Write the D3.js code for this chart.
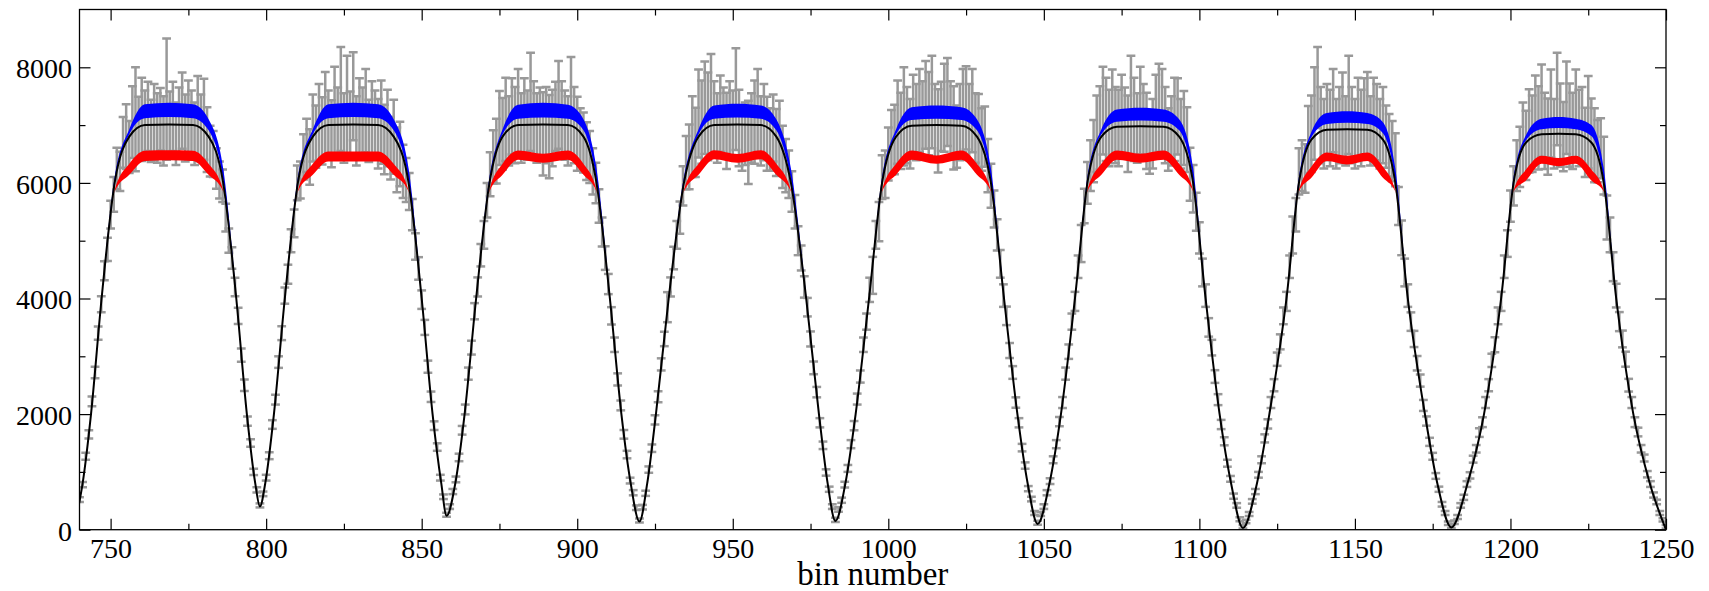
<!DOCTYPE html>
<html><head><meta charset="utf-8">
<script src="https://cdn.jsdelivr.net/npm/d3@7"></script>
<style>html,body{margin:0;padding:0;background:#fff}svg{display:block}</style>
</head><body>
<svg id="chart" width="1709" height="591"></svg>
<script>
// ---------------- data ----------------
const binStart = 740;
// observed counts per bin (740 ... 1250)
const obs = [
520,780,1270,1650,2220,2720,3400,3900,4480,4850,
5450,5800,6250,6200,6700,6800,6620,7050,7100,6950,
7100,7000,7150,6900,7050,6950,7100,6900,7450,7000,
7150,6850,7050,7250,6950,7150,7000,6850,7150,6950,
7100,6750,6550,6500,6250,6050,5950,5400,5000,4700,
4200,3700,3020,2500,1880,1500,1000,690,420,620,
900,1280,1820,2250,2900,3400,4050,4420,5000,5300,
6000,6050,6450,6650,6450,6950,6800,7050,6900,7200,
7000,6850,7250,7050,7450,6950,7300,7000,7500,6900,
7150,7050,7250,6900,7100,7000,6850,7050,6750,6950,
6600,6800,6400,6500,6200,6050,5850,5450,4900,4520,
3980,3500,2820,2300,1800,1430,900,570,260,400,
660,870,1250,1720,2080,2700,3150,3780,4200,4750,
5100,5700,6150,6450,6550,6950,6850,7100,6900,7150,
7000,7250,6950,7150,7000,7400,7100,6950,7050,6850,
7000,6800,6950,7150,7350,7100,7000,6900,7300,7000,
6850,6750,6700,6550,6450,6200,6000,5600,5150,4700,
4250,3700,3200,2600,2150,1650,1300,850,640,380,
160,390,630,1040,1410,1900,2300,2860,3300,3850,
4200,4700,5100,5400,5950,6350,6450,6800,6700,7200,
7050,7300,7150,7350,7100,6950,7200,7050,6900,7100,
7000,7450,6950,6750,6850,6700,6950,7050,7250,6900,
7050,6850,6750,6950,6700,6800,6450,6300,6150,5850,
5500,5000,4700,4200,3850,3300,2800,2380,1850,1460,
990,700,400,170,350,510,780,1060,1480,1800,
2260,2650,3200,3600,4150,4400,5100,5330,6100,6150,
6500,6700,6750,7050,6900,7150,7000,6850,7150,7050,
7250,7100,7350,7200,7400,7050,6900,7150,7300,7400,
7100,6950,6800,7050,7250,7300,7050,7250,6950,6900,
6750,6800,6300,5950,5550,5100,4600,4050,3700,3100,
2720,2200,1850,1420,1110,710,530,290,120,270,
400,640,840,1210,1480,1870,2200,2700,3080,3600,
3950,4550,4950,5600,6000,6300,6550,6850,6950,7250,
7100,6950,7200,7000,6950,7150,7050,6850,7350,7100,
6950,7250,7050,6900,6700,6850,7150,7300,7250,7000,
6750,6900,7100,7150,6850,6950,6750,6150,5900,5500,
5050,4450,4050,3500,3150,2650,2250,1820,1530,1150,
880,580,420,180,50,140,270,490,660,950,
1210,1580,1830,2200,2500,2950,3250,3700,3950,4550,
5100,5450,6200,6300,6250,6750,6850,7200,7650,7000,
6850,7050,6950,7250,6850,7000,7150,6900,7350,7000,
6850,7100,6950,7150,7200,6900,7100,7050,6850,7000,
6800,6650,6550,6400,5600,5050,4450,4050,3600,3300,
2880,2580,2150,1880,1520,1270,930,700,440,290,
110,60,130,220,420,560,790,940,1220,1400,
1680,1860,2200,2500,2930,3200,3700,3950,4550,4950,
5600,5950,6300,6450,6750,6650,6900,6850,7100,6950,
7250,6900,6800,7200,6850,7450,7000,6800,7300,7000,
6900,7200,6950,7000,6700,7050,6800,6650,6550,6600,
6300,5400,5100,4550,4050,3600,3300,2950,2500,2200,
1860,1690,1400,1240,960,790,600,480,290,170,
50
];
// symmetric error per bin
const err = [
40,45,60,70,85,100,115,140,165,200,
240,300,360,340,440,560,450,620,900,540,
720,600,600,540,660,600,540,600,1050,580,
600,540,600,660,580,620,600,540,700,580,
700,560,440,400,350,320,280,240,210,185,
160,140,115,100,80,65,55,45,35,40,
50,60,75,85,100,120,140,165,200,240,
300,320,390,460,480,580,540,660,580,720,
600,580,760,600,900,600,900,580,760,600,
660,600,720,540,660,600,600,720,600,660,
540,640,560,560,460,380,320,270,230,195,
160,130,105,90,75,65,50,40,35,40,
45,50,65,75,85,105,120,140,165,195,
240,300,380,460,560,640,620,720,600,660,
660,720,600,660,600,850,660,600,600,720,
660,720,660,600,760,660,600,600,880,660,
640,540,520,500,450,400,350,290,250,205,
175,150,125,105,85,75,65,50,45,40,
35,40,45,55,65,80,95,105,125,260,
165,195,240,280,340,460,560,700,600,760,
720,800,760,880,660,600,660,600,660,660,
600,880,660,540,540,720,600,720,720,600,
660,640,540,580,580,620,540,460,410,350,
290,250,215,185,160,130,110,90,80,65,
55,45,40,35,40,45,50,60,70,80,
95,105,125,140,210,320,240,340,380,410,
460,560,600,720,660,850,660,600,720,660,
720,660,760,720,800,660,720,600,760,760,
660,720,540,660,720,720,660,720,600,640,
540,520,460,380,320,270,240,195,160,130,
110,90,80,65,55,45,40,35,35,35,
40,45,50,60,70,80,95,105,125,140,
165,195,320,300,360,440,540,660,720,760,
720,660,760,660,660,720,600,660,850,720,
600,760,660,660,540,600,720,760,720,660,
540,600,720,660,600,640,560,460,410,330,
270,240,195,160,135,110,95,80,70,60,
50,45,40,35,30,30,35,40,45,50,
60,70,80,95,105,115,130,145,165,195,
320,290,400,440,420,580,660,800,700,660,
600,660,660,720,600,660,760,600,850,660,
600,720,660,660,720,600,720,660,600,660,
540,540,520,460,330,300,240,195,160,140,
125,105,95,80,70,60,50,45,40,35,
30,30,30,35,40,45,50,55,60,65,
75,85,95,105,115,130,145,165,195,230,
270,340,440,520,640,600,720,660,760,720,
800,660,660,760,600,800,720,600,800,720,
660,760,660,660,600,800,660,640,540,520,
500,380,300,250,205,165,145,130,110,95,
85,75,65,60,55,50,45,40,35,30,
30
];
// knots of the model curves (bin positions)
const curveBins = [
739.5,741,743.7,747.1,751.3,756,761,768.8,776.5,781.5,786.2,790.4,793.8,796.5,
798,799.7,802.5,806,810.2,815,820,828,836,841,845.8,850,853.5,856.3,
858,860.8,863.8,867.5,871.8,876,881,889,897,902,906.2,910.5,914.2,917.2,
920,922.5,925.3,929.4,934.3,939,944,951.5,959,964,968.7,973.6,977.7,980.5,
983,986.2,989.5,993.8,998,1002.5,1007.5,1015.5,1023.5,1028.5,1033,1037.2,1041.5,1044.8,
1048,1051.8,1055.5,1060,1064,1068.5,1073.5,1081,1088.5,1093.5,1098,1102,1106.5,1110.2,
1114,1118.5,1122.5,1128,1132,1136,1141,1147.5,1154,1159,1163,1167,1172.5,1176.5,
1181,1186.2,1191.5,1197,1201,1205,1210,1215.5,1221,1226,1230,1234,1239.5,1244.8,
1250
];
// black model line
const model = [
350,800,2000,4000,6000,6800,7000,7010,7000,6800,6000,4000,2000,800,
400,800,2000,4000,6000,6800,7000,7010,7000,6800,6000,4000,2000,800,
240,800,2000,4000,6000,6800,7000,7010,7000,6800,6000,4000,2000,800,
140,800,2000,4000,6000,6800,7000,7010,7000,6800,6000,4000,2000,800,
150,800,2000,4000,6000,6800,6990,7000,6990,6800,6000,4000,2000,800,
100,800,2000,4000,6000,6800,6970,6980,6970,6800,6000,4000,2000,800,
30,800,2000,4000,6000,6750,6920,6930,6920,6750,6000,4000,2000,800,
40,800,2000,4000,6000,6700,6840,6850,6840,6700,6000,4000,2000,800,
0
];
// blue band (upper / lower edge)
const blueHi = [
350,800,2000,4020,6100,6930,7360,7388,7360,7100,6250,4060,2000,800,
400,800,2000,4020,6100,6930,7360,7388,7360,7100,6250,4060,2000,800,
240,800,2000,4020,6100,6930,7350,7388,7350,7100,6250,4060,2000,800,
140,800,2000,4020,6100,6930,7340,7370,7340,7100,6250,4060,2000,800,
150,800,2000,4020,6100,6930,7310,7340,7310,7100,6250,4060,2000,800,
100,800,2000,4020,6100,6930,7270,7300,7270,7100,6250,4060,2000,800,
30,800,2000,4020,6100,6880,7210,7240,7210,7050,6250,4060,2000,800,
40,800,2000,4020,6100,6830,7110,7140,7110,7000,6250,4060,2000,800,
0
];
const blueLo = [
350,800,2000,4000,6020,6840,7120,7140,7120,6910,6060,4010,2000,800,
400,800,2000,4000,6020,6840,7120,7140,7120,6910,6060,4010,2000,800,
240,800,2000,4000,6020,6840,7110,7130,7110,6910,6060,4010,2000,800,
140,800,2000,4000,6020,6840,7110,7130,7110,6910,6060,4010,2000,800,
150,800,2000,4000,6020,6840,7090,7110,7090,6910,6060,4010,2000,800,
100,800,2000,4000,6020,6840,7060,7080,7060,6910,6060,4010,2000,800,
30,800,2000,4000,6020,6790,7020,7040,7020,6860,6060,4010,2000,800,
40,800,2000,4000,6020,6740,6930,6950,6930,6810,6060,4010,2000,800,
0
];
// red band (upper / lower edge)
const redHi = [
350,800,2000,3990,5870,6330,6555,6563,6555,6330,5870,3990,2000,800,
400,800,2000,3990,5870,6330,6545,6545,6545,6330,5870,3990,2000,800,
240,800,2000,3990,5870,6330,6560,6505,6560,6330,5870,3990,2000,800,
140,800,2000,3990,5870,6330,6565,6500,6565,6330,5870,3990,2000,800,
150,800,2000,3990,5870,6330,6560,6476,6560,6330,5870,3990,2000,800,
100,800,2000,3990,5870,6330,6560,6505,6560,6330,5870,3990,2000,800,
30,800,2000,3990,5870,6280,6528,6470,6528,6280,5870,3990,2000,800,
40,800,2000,3990,5870,6230,6470,6430,6470,6230,5870,3990,2000,800,
0
];
const redLo = [
350,800,2000,3985,5850,6140,6380,6390,6380,6140,5850,3985,2000,800,
400,800,2000,3985,5850,6140,6370,6370,6370,6140,5850,3985,2000,800,
240,800,2000,3985,5850,6140,6400,6350,6400,6140,5850,3985,2000,800,
140,800,2000,3985,5850,6140,6410,6350,6410,6140,5850,3985,2000,800,
150,800,2000,3985,5850,6140,6400,6330,6400,6140,5850,3985,2000,800,
100,800,2000,3985,5850,6140,6400,6350,6400,6140,5850,3985,2000,800,
30,800,2000,3985,5850,6090,6380,6320,6380,6090,5850,3985,2000,800,
40,800,2000,3985,5850,6040,6330,6290,6330,6040,5850,3985,2000,800,
0
];
const xTicks = [750,800,850,900,950,1000,1050,1100,1150,1200,1250];
const xMinorTicks = [775,825,875,925,975,1025,1075,1125,1175,1225];
const yTicks = [0,2000,4000,6000,8000];
const yMinorTicks = [1000,3000,5000,7000];
const xLabel = "bin number";

// ---------------- drawing ----------------
const X0 = 79.5, X1 = 1666, Y0 = 529.7, Y1 = 9.5;
const x = d3.scaleLinear().domain([740, 1250]).range([X0, X1]);
const y = d3.scaleLinear().domain([0, 9000]).range([Y0, Y1]);
const svg = d3.select('#chart');
const FONT = '"Liberation Serif","Times New Roman",serif';

svg.append('defs').append('clipPath').attr('id', 'clip')
  .append('rect').attr('x', X0).attr('y', Y1).attr('width', X1 - X0).attr('height', Y0 - Y1);
const plot = svg.append('g').attr('clip-path', 'url(#clip)');

// error bars
const points = obs.map((v, i) => ({ b: binStart + i, v, e: err[i] }));
const eb = plot.append('g').attr('stroke', '#999999').attr('fill', 'none').attr('stroke-width', 2.5);
const bar = eb.selectAll('g').data(points).join('g');
bar.append('line')
  .attr('x1', d => x(d.b)).attr('x2', d => x(d.b))
  .attr('y1', d => y(d.v - d.e)).attr('y2', d => y(d.v + d.e));
bar.append('line')
  .attr('x1', d => x(d.b) - 4.4).attr('x2', d => x(d.b) + 4.4)
  .attr('y1', d => y(d.v - d.e)).attr('y2', d => y(d.v - d.e));
bar.append('line')
  .attr('x1', d => x(d.b) - 4.4).attr('x2', d => x(d.b) + 4.4)
  .attr('y1', d => y(d.v + d.e)).attr('y2', d => y(d.v + d.e));

// model bands and line
const knots = curveBins.map((b, i) => ({ b, m: model[i], bh: blueHi[i], bl: blueLo[i], rh: redHi[i], rl: redLo[i] }));
const band = (lo, hi) => d3.area().x(d => x(d.b)).y0(d => y(d[lo])).y1(d => y(d[hi])).curve(d3.curveMonotoneX);
plot.append('path').datum(knots).attr('d', band('bl', 'bh')).attr('fill', '#0000ff');
plot.append('path').datum(knots).attr('d', band('rl', 'rh')).attr('fill', '#ff0000');
plot.append('path').datum(knots)
  .attr('d', d3.line().x(d => x(d.b)).y(d => y(d.m)).curve(d3.curveMonotoneX))
  .attr('fill', 'none').attr('stroke', '#000').attr('stroke-width', 2);

// axes
function styleAxis(g) {
  g.select('.domain').remove();
  g.selectAll('line').attr('stroke', '#000').attr('stroke-width', 1.2);
  g.attr('font-family', FONT).attr('font-size', 28);
  g.selectAll('text').attr('fill', '#000');
}
const fmt = d3.format('d');
svg.append('g').attr('transform', `translate(0,${Y0})`)
  .call(d3.axisBottom(x).tickValues(xTicks).tickSize(-11).tickSizeOuter(0).tickPadding(8).tickFormat(fmt)).call(styleAxis);
svg.append('g').attr('transform', `translate(0,${Y0})`)
  .call(d3.axisBottom(x).tickValues(xMinorTicks).tickSize(-6).tickSizeOuter(0).tickFormat('')).call(styleAxis);
svg.append('g').attr('transform', `translate(0,${Y1})`)
  .call(d3.axisTop(x).tickValues(xTicks).tickSize(-11).tickSizeOuter(0).tickFormat('')).call(styleAxis);
svg.append('g').attr('transform', `translate(0,${Y1})`)
  .call(d3.axisTop(x).tickValues(xMinorTicks).tickSize(-6).tickSizeOuter(0).tickFormat('')).call(styleAxis);
const gy = svg.append('g').attr('transform', `translate(${X0},0)`)
  .call(d3.axisLeft(y).tickValues(yTicks).tickSize(-11).tickSizeOuter(0).tickPadding(7.5).tickFormat(fmt)).call(styleAxis);
gy.selectAll('text').attr('dy', '0.37em');
svg.append('g').attr('transform', `translate(${X0},0)`)
  .call(d3.axisLeft(y).tickValues(yMinorTicks).tickSize(-6).tickSizeOuter(0).tickFormat('')).call(styleAxis);
svg.append('g').attr('transform', `translate(${X1},0)`)
  .call(d3.axisRight(y).tickValues(yTicks).tickSize(-11).tickSizeOuter(0).tickFormat('')).call(styleAxis);
svg.append('g').attr('transform', `translate(${X1},0)`)
  .call(d3.axisRight(y).tickValues(yMinorTicks).tickSize(-6).tickSizeOuter(0).tickFormat('')).call(styleAxis);

// frame
svg.append('rect').attr('x', X0).attr('y', Y1).attr('width', X1 - X0).attr('height', Y0 - Y1)
  .attr('fill', 'none').attr('stroke', '#000').attr('stroke-width', 1.3);

// axis title
svg.append('text').attr('x', (X0 + X1) / 2).attr('y', 585).attr('text-anchor', 'middle')
  .attr('font-family', FONT).attr('font-size', 33).attr('fill', '#000').text(xLabel);
</script>
</body></html>
